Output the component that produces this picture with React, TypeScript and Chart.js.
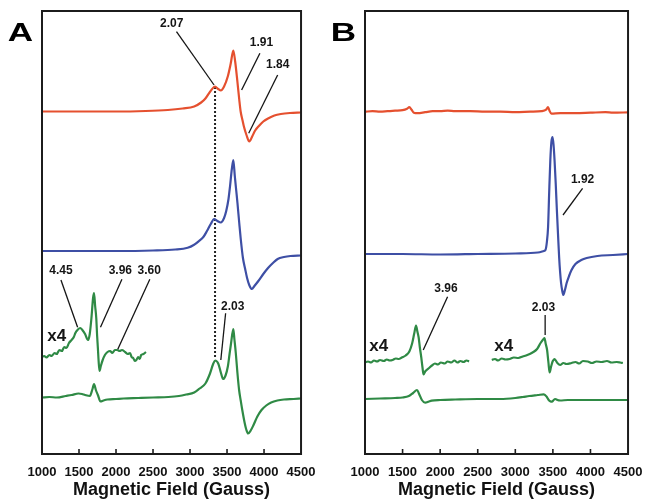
import React, { useEffect, useRef } from "react";
import { Chart, registerables } from "chart.js";

Chart.register(...registerables);

type Pt = [number, number];

// ---------- axis ----------
const X_MIN = 1000;
const X_MAX = 4500;
const X_TICKS = [1000, 1500, 2000, 2500, 3000, 3500, 4000, 4500];
const Y_MIN = 0;
const Y_MAX = 443;
const X_TITLE = "Magnetic Field (Gauss)";

// ---------- colours ----------
const RED = "#e5502f";
const BLUE = "#3e4fa5";
const GREEN = "#2f8a45";

// ---------- panel A traces (field, signal) ----------
const RED_A: Pt[] = [
  [1000, 0], [1500, 0], [2000, 0], [2400, 0.5], [2700, 1.5], [2900, 3], [3056, 5], [3150, 9],
  [3208, 13], [3273, 20], [3338, 25], [3380, 22.5], [3416, 21], [3460, 25], [3510, 35], [3550, 48],
  [3585, 61], [3610, 50], [3640, 30], [3665, 12], [3684, 0], [3710, -9], [3728, -15], [3765, -24],
  [3801, -30], [3840, -25], [3880, -19], [3924, -15], [3990, -10], [4054, -7], [4140, -4],
  [4227, -2.5], [4350, -1.5], [4500, -1],
];
const BLUE_A: Pt[] = [
  [1000, 0], [2000, 0], [2500, 0.5], [2800, 1.5], [2968, 3.3], [3050, 6], [3121, 10], [3180, 14],
  [3229, 20], [3280, 27], [3325, 32], [3370, 30], [3416, 28.5], [3460, 33], [3489, 40], [3520, 52],
  [3541, 65], [3565, 82], [3585, 91], [3605, 75], [3625, 60], [3641, 48], [3665, 28], [3684, 13],
  [3715, -7], [3745, -18], [3771, -27], [3800, -34], [3836, -38], [3870, -35], [3923, -30],
  [3990, -23], [4054, -17], [4120, -12], [4184, -8], [4270, -6], [4357, -5], [4500, -4.5],
];
const GREEN_X4_A: Pt[] = [
  [1000, -1], [1030, 0], [1060, -1.5], [1100, 1], [1130, 0], [1170, 3], [1200, 2], [1234, 6],
  [1270, 5], [1300, 9], [1330, 8], [1364, 13], [1400, 16], [1430, 19], [1451, 23], [1480, 26],
  [1517, 28], [1545, 26], [1582, 22], [1610, 17], [1625, 16], [1645, 22], [1668, 38], [1690, 58],
  [1703, 63], [1718, 50], [1733, 38], [1745, 20], [1755, 8], [1765, -5], [1777, -15], [1795, -10],
  [1820, -4], [1850, 1], [1885, 4], [1920, 5], [1950, 3], [1985, 6], [2015, 6], [2050, 5],
  [2080, 6], [2123, 4], [2160, 2], [2190, 3], [2210, -1], [2232, -2], [2255, -5], [2275, -4],
  [2300, -1], [2320, -3], [2340, 1], [2370, 2], [2405, 4],
];
const GREEN_A: Pt[] = [
  [1000, 0], [1100, 0.5], [1200, 0], [1321, 1.5], [1400, 2.5], [1494, 4], [1540, 3.5], [1582, 2.5],
  [1647, 1.5], [1680, 8], [1703, 13.5], [1730, 7], [1755, 2.5], [1790, -4], [1830, -3], [1885, -2],
  [2000, -1.5], [2102, -1], [2300, -0.5], [2500, 0], [2708, 0.5], [2850, 1.5], [2950, 3], [3056, 5],
  [3130, 9], [3208, 14], [3270, 24], [3310, 33], [3338, 37], [3381, 34], [3420, 24], [3446, 18.5],
  [3480, 22], [3511, 31], [3535, 44], [3554, 54], [3585, 68.5], [3600, 58], [3619, 44], [3640, 25],
  [3663, 7.5], [3685, -3], [3706, -12.5], [3740, -26], [3760, -32], [3784, -36], [3820, -33],
  [3858, -27.5], [3910, -19], [3966, -12.5], [4030, -8], [4096, -5], [4180, -3], [4269, -2],
  [4400, -1.5], [4500, -1],
];
const DOTTED_A: Pt[] = [[3338, 367], [3338, 96]];

// ---------- panel B traces ----------
const RED_B: Pt[] = [
  [1000, 0], [1100, 0.5], [1200, 0], [1300, 0.5], [1400, 1], [1500, 1.5], [1560, 3], [1590, 4.5],
  [1620, 2], [1650, -1], [1700, -1.5], [1800, -0.5], [1900, 0.5], [2000, 0.5], [2100, 1], [2200, 0.5],
  [2400, 0.5], [2600, 0], [2800, 0], [3000, -0.5], [3200, 0], [3350, 0.5], [3410, 2], [3435, 4.5],
  [3455, 1], [3480, -2], [3600, -1.5], [3800, -1.5], [4000, -1], [4200, -0.5], [4300, -1], [4500, -0.7],
];
const BLUE_B: Pt[] = [
  [1000, 0], [1500, 0], [2000, -0.5], [2500, 0], [3000, 0.5], [3300, 1.5], [3380, 3], [3401, 4],
  [3420, 12], [3436, 27], [3450, 60], [3466, 94], [3480, 112], [3496, 117], [3510, 108], [3522, 94],
  [3538, 70], [3553, 44], [3568, 20], [3583, -3], [3596, -18], [3609, -29], [3625, -37], [3639, -41],
  [3660, -36], [3683, -29], [3715, -22], [3748, -16], [3800, -10], [3878, -6], [3950, -4],
  [4093, -2], [4300, -1], [4500, 0],
];
const GREEN_X4_B1: Pt[] = [
  [1000, -1], [1040, 0], [1080, -1], [1120, 1], [1160, 0], [1200, 1.5], [1250, 0.5], [1290, 2],
  [1330, 1], [1367, 1.5], [1410, 3], [1450, 2.5], [1490, 4], [1541, 6], [1590, 10], [1627, 18],
  [1655, 28], [1679, 36], [1697, 30], [1714, 24], [1730, 14], [1749, 4], [1765, -6], [1779, -13],
  [1800, -10], [1844, -7], [1890, -4], [1931, -2], [1970, -3], [2010, -1], [2060, -2], [2100, 0],
  [2147, -1], [2190, 1], [2230, -1], [2270, 0.5], [2310, -0.5], [2350, 1], [2385, 0],
];
const GREEN_X4_B2: Pt[] = [
  [2687, 0], [2730, 1], [2770, -0.5], [2820, 1.5], [2870, 0.5], [2925, 1], [2980, 2.5], [3040, 2],
  [3099, 3.5], [3160, 5], [3229, 7.5], [3290, 11], [3336, 17], [3365, 20], [3388, 22], [3405, 16],
  [3423, 10], [3440, -2], [3457, -12.5], [3475, -7], [3496, -1.5], [3510, 0], [3522, 1], [3560, -3],
  [3596, -5], [3640, -3], [3680, -4], [3748, -3], [3800, -2], [3850, -3.5], [3900, -1], [3964, -1.5],
  [4020, -3], [4080, -1.5], [4150, -2], [4220, -1], [4280, -2.5], [4350, -2], [4397, -2.5], [4431, -3],
];
const GREEN_B: Pt[] = [
  [1000, 0], [1200, 0.5], [1400, 1], [1500, 1.5], [1584, 3], [1640, 6], [1692, 9], [1720, 5],
  [1757, -1], [1801, -3.7], [1850, -2.5], [1887, -1.7], [2000, -1], [2200, -0.5], [2500, 0],
  [2800, 0], [3000, 1], [3100, 2], [3185, 3], [3300, 4], [3380, 4.7], [3420, 2], [3444, -1],
  [3470, -2.5], [3488, -2.7], [3510, -1], [3531, 0], [3560, -1], [3596, -1.5], [3700, -1],
  [3900, -1], [4200, -1], [4500, -1],
];

// vertical stacking offsets (baselines)
const BASE_A = { red: 342.5, blue: 203, x4: 98, green: 56.5 };
const BASE_B = { red: 342.3, blue: 200, x4a: 92.5, x4b: 94, green: 55 };

// ---------- annotations (data coordinates) ----------
type Note = { text: string; tx: number; ty: number; big?: boolean; x1?: number; y1?: number; x2?: number; y2?: number };
const NOTES_A: Note[] = [
  { text: "2.07", tx: 2752, ty: 430, x1: 2817, y1: 422.3, x2: 3325, y2: 369 },
  { text: "1.91", tx: 3966, ty: 411, x1: 3944, y1: 400.7, x2: 3697, y2: 364 },
  { text: "1.84", tx: 4184, ty: 389, x1: 4184, y1: 379, x2: 3793, y2: 320.7 },
  { text: "4.45", tx: 1256, ty: 183.3, x1: 1256, y1: 174, x2: 1481, y2: 126.7 },
  { text: "3.96", tx: 2058, ty: 183.3, x1: 2080, y1: 174.7, x2: 1790, y2: 126.7 },
  { text: "3.60", tx: 2448, ty: 183.3, x1: 2457, y1: 174.7, x2: 2024, y2: 104.7 },
  { text: "2.03", tx: 3576, ty: 147.3, x1: 3481, y1: 140.7, x2: 3416, y2: 94 },
  { text: "x4", tx: 1199, ty: 117.3, big: true },
];
const NOTES_B: Note[] = [
  { text: "1.92", tx: 3895, ty: 274, x1: 3895, y1: 265.7, x2: 3635, y2: 239 },
  { text: "3.96", tx: 2077, ty: 165.7, x1: 2099, y1: 157.3, x2: 1775, y2: 104 },
  { text: "2.03", tx: 3375, ty: 146.7, x1: 3397, y1: 139, x2: 3397, y2: 119 },
  { text: "x4", tx: 1182, ty: 108, big: true },
  { text: "x4", tx: 2847, ty: 108, big: true },
];

const FONT = "'Liberation Sans', Arial, Helvetica, sans-serif";

function series(pts: Pt[], base: number) {
  return pts.map(([x, y]) => ({ x, y: base + y }));
}

function lineDs(pts: Pt[], base: number, color: string) {
  return {
    data: series(pts, base),
    borderColor: color,
    borderWidth: 2.2,
    pointRadius: 0,
    fill: false,
    cubicInterpolationMode: "monotone" as const,
  };
}

function panelPlugin(letter: string, notes: Note[]) {
  return {
    id: "panelDecor" + letter,
    afterDatasetsDraw(chart: any) {
      const { ctx, chartArea: a, scales } = chart;
      const sx = scales.x;
      const sy = scales.y;
      ctx.save();
      // frame
      ctx.strokeStyle = "#1c1c1c";
      ctx.lineWidth = 2;
      ctx.strokeRect(a.left, a.top, a.right - a.left, a.bottom - a.top);
      // inner ticks
      ctx.lineWidth = 1.6;
      for (const v of X_TICKS) {
        if (v <= X_MIN || v >= X_MAX) continue;
        const px = sx.getPixelForValue(v);
        ctx.beginPath();
        ctx.moveTo(px, a.bottom);
        ctx.lineTo(px, a.bottom - 5);
        ctx.stroke();
      }
      // annotations
      ctx.strokeStyle = "#151515";
      ctx.lineWidth = 1.3;
      ctx.fillStyle = "#151515";
      ctx.textAlign = "center";
      ctx.textBaseline = "middle";
      for (const n of notes) {
        if (n.x1 !== undefined) {
          ctx.beginPath();
          ctx.moveTo(sx.getPixelForValue(n.x1), sy.getPixelForValue(n.y1));
          ctx.lineTo(sx.getPixelForValue(n.x2), sy.getPixelForValue(n.y2));
          ctx.stroke();
        }
        ctx.font = n.big ? `bold 17px ${FONT}` : `bold 12px ${FONT}`;
        ctx.fillText(n.text, sx.getPixelForValue(n.tx), sy.getPixelForValue(n.ty));
      }
      // panel letter
      ctx.save();
      ctx.translate(a.left - 21.5, a.top + 23);
      ctx.scale(1.35, 1);
      ctx.font = `bold 26px ${FONT}`;
      ctx.fillStyle = "#000";
      ctx.fillText(letter, 0, 0);
      ctx.restore();
      ctx.restore();
    },
  };
}

function makeChart(canvas: HTMLCanvasElement, datasets: any[], letter: string, notes: Note[], padL: number, padR: number) {
  return new Chart(canvas, {
    type: "line",
    data: { datasets },
    options: {
      responsive: false,
      animation: false,
      devicePixelRatio: 1,
      layout: { padding: { left: padL, right: padR, top: 11, bottom: 0 } },
      plugins: { legend: { display: false }, tooltip: { enabled: false } },
      scales: {
        x: {
          type: "linear",
          min: X_MIN,
          max: X_MAX,
          afterBuildTicks: (scale: any) => {
            scale.ticks = X_TICKS.map((v) => ({ value: v }));
          },
          afterFit: (scale: any) => {
            scale.height = 48;
          },
          grid: { display: false, drawTicks: false },
          border: { display: false },
          ticks: {
            color: "#111",
            padding: 10.5,
            maxRotation: 0,
            autoSkip: false,
            font: { family: FONT, size: 13, weight: "bold" },
            callback: (v: any) => String(v),
          },
          title: {
            display: true,
            text: X_TITLE,
            color: "#111",
            font: { family: FONT, size: 18, weight: "bold" },
            padding: { top: 0, bottom: 1 },
          },
        },
        y: { type: "linear", display: false, min: Y_MIN, max: Y_MAX },
      },
    } as any,
    plugins: [panelPlugin(letter, notes)],
  });
}

export default function App() {
  const refA = useRef<HTMLCanvasElement>(null);
  const refB = useRef<HTMLCanvasElement>(null);

  useEffect(() => {
    const dsA = [
      lineDs(RED_A, BASE_A.red, RED),
      lineDs(BLUE_A, BASE_A.blue, BLUE),
      lineDs(GREEN_X4_A, BASE_A.x4, GREEN),
      lineDs(GREEN_A, BASE_A.green, GREEN),
      {
        data: DOTTED_A.map(([x, y]) => ({ x, y })),
        borderColor: "#222",
        borderWidth: 2,
        borderDash: [2, 2],
        pointRadius: 0,
        fill: false,
      },
    ];
    const dsB = [
      lineDs(RED_B, BASE_B.red, RED),
      lineDs(BLUE_B, BASE_B.blue, BLUE),
      lineDs(GREEN_X4_B1, BASE_B.x4a, GREEN),
      lineDs(GREEN_X4_B2, BASE_B.x4b, GREEN),
      lineDs(GREEN_B, BASE_B.green, GREEN),
    ];
    const cA = makeChart(refA.current!, dsA, "A", NOTES_A, 42, 15);
    const cB = makeChart(refB.current!, dsB, "B", NOTES_B, 39, 18);
    return () => {
      cA.destroy();
      cB.destroy();
    };
  }, []);

  return (
    <div style={{ position: "absolute", left: 0, top: 0, width: 653, height: 502, background: "#fff" }}>
      <canvas ref={refA} width={326} height={502} style={{ position: "absolute", left: 0, top: 0, width: 326, height: 502 }} />
      <canvas ref={refB} width={327} height={502} style={{ position: "absolute", left: 326, top: 0, width: 327, height: 502 }} />
    </div>
  );
}
